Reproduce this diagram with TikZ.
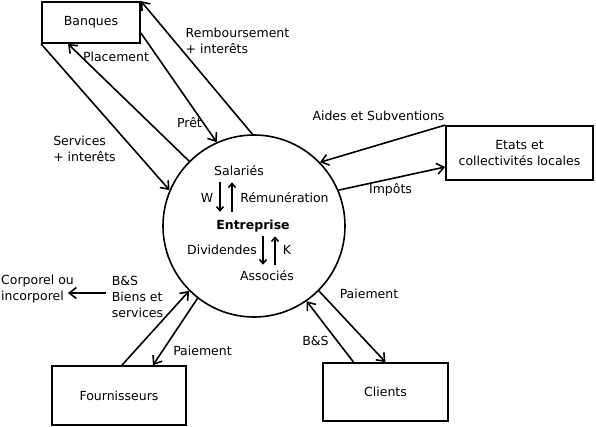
\documentclass[tikz,border=0pt]{standalone}
\usepackage{fontspec}
\setmainfont{DejaVu Sans}
\usetikzlibrary{arrows.meta}
\tikzset{
  actor/.style={draw, line width=1.8pt, align=center, font=\fontsize{12.5}{16}\selectfont},
  firm/.style={circle, draw, line width=1.6pt, minimum size=182pt, inner sep=0pt},
  lab/.style={font=\fontsize{12.5}{16}\selectfont, align=left, inner sep=1pt},
  flow/.style={-{Straight Barb[length=7pt,width=11pt]}, line width=1.6pt},
  inner/.style={-{Straight Barb[length=4pt,width=7pt]}, line width=1.6pt},
}
\begin{document}
\begin{tikzpicture}[x=1pt,y=-1pt]
  \useasboundingbox (0,0) rectangle (596,426);
  % partenaires
  \node[actor, minimum width=98pt, minimum height=41pt] (banq) at (91,22.5) {Banques};
  \node[actor, minimum width=147pt, minimum height=54pt] (etat) at (519.5,153) {Etats et\\collectivités locales};
  \node[actor, minimum width=134pt, minimum height=59pt] (four) at (119,395.5) {Fournisseurs};
  \node[actor, minimum width=125pt, minimum height=58pt] (cli) at (385.5,392) {Clients};
  \node[firm] (ent) at (254,226) {};
  % contenu de l'entreprise
  \node[lab, font=\fontsize{12.5}{16}\selectfont\bfseries] (entr) at (253,226) {Entreprise};
  \node[lab] (sal) at (239,171) {Salariés};
  \node[lab] (w) at (207,198) {W};
  \node[lab] (remu) at (284.5,198) {Rémunération};
  \node[lab] (asso) at (267,276) {Associés};
  \node[lab] (divi) at (222,250) {Dividendes};
  \node[lab] (k) at (287,250) {K};
  \draw[inner, shorten <=5pt, shorten >=7pt] ([xshift=-19pt]sal.south) -- ([xshift=-19pt]sal.south |- entr.north);
  \draw[inner, shorten <=7pt, shorten >=5pt] ([xshift=-7pt]sal.south |- entr.north) -- ([xshift=-7pt]sal.south);
  \draw[inner, shorten <=3pt, shorten >=5pt] ([xshift=-4pt]asso.north |- entr.south) -- ([xshift=-4pt]asso.north);
  \draw[inner, shorten <=5pt, shorten >=3pt] ([xshift=8pt]asso.north) -- ([xshift=8pt]asso.north |- entr.south);
  % banques
  \draw[flow] (ent.91) -- (banq.north east);
  \draw[flow] ([yshift=-10.5pt]banq.east) -- (ent.114);
  \draw[flow] (ent.135) -- ([xshift=-23pt]banq.south);
  \draw[flow] (banq.south west) -- (ent.157);
  \node[lab] (remb) at (237.5,41) {Remboursement\\+ interêts};
  \node[lab] (plac) at (116,57) {Placement};
  \node[lab] (pret) at (189.5,123) {Prêt};
  \node[lab] (serv) at (84.5,149) {Services\\+ interêts};
  % etat
  \draw[flow] (etat.north west) -- (ent.44);
  \draw[flow] (ent.23) -- ([yshift=-14pt]etat.west);
  \node[lab] (aide) at (378.5,116) {Aides et Subventions};
  \node[lab] (impo) at (390.5,190) {Impôts};
  % fournisseurs
  \draw[flow] ([xshift=3pt]four.north) -- (ent.225);
  \draw[flow] (ent.232) -- ([xshift=34pt]four.north);
  \node[lab] (bsf) at (137.5,297) {B\&S\\Biens et\\services};
  \node[lab] (corp) at (37.5,289) {Corporel ou\\incorporel};
  \draw[flow, shorten <=5pt, shorten >=-7pt] ([yshift=4pt]bsf.west) -- ([yshift=4pt]bsf.west -| corp.east);
  \node[lab] (paif) at (202.5,351) {Paiement};
  % clients
  \draw[flow] (ent.315) -- (cli.north);
  \draw[flow] ([xshift=-32pt]cli.north) -- (ent.305);
  \node[lab] (paic) at (369,294) {Paiement};
  \node[lab] (bsc) at (315.5,341) {B\&S};
\end{tikzpicture}
\end{document}
